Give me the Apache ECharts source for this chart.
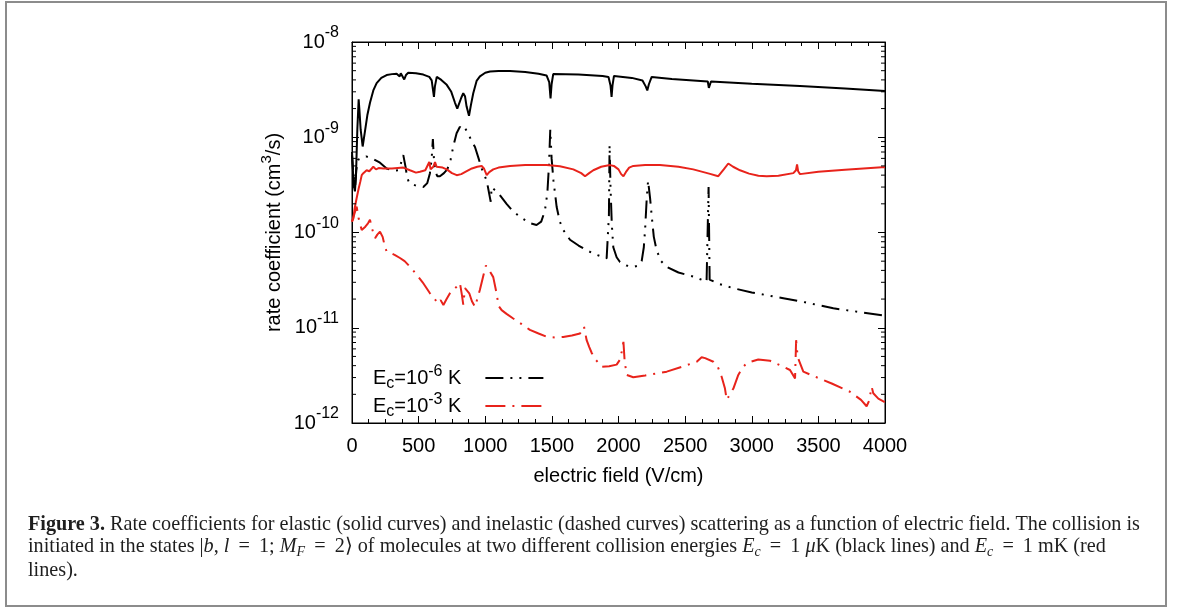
<!DOCTYPE html>
<html>
<head>
<meta charset="utf-8">
<script src="https://cdn.jsdelivr.net/npm/echarts@6/dist/echarts.min.js"></script>
<style>
html,body{margin:0;padding:0;background:#fff;}
#chart{width:1179px;height:613px;}
</style>
</head>
<body>
<div id="chart"></div>
<script>
// ---------- DATA ----------
// Black solid: elastic, Ec = 1 uK
const bsX = [0,8,16,22,30,40,50,55,65,80,95,115,135,160,185,220,260,300,335,350,358,366,380,392,405,422,480,535,580,598,607,615,622,636,670,711,745,773,790,805,820,835,848,860,878,893,910,935,960,1000,1036,1100,1186,1300,1400,1460,1480,1490,1498,1510,1525,1700,1880,1925,1940,1948,1955,1966,2100,2180,2205,2216,2228,2249,2400,2670,2678,2686,2694,3000,3362,3700,4000];
const bsY = [6.5e-10,4.2e-10,3.0e-10,2.7e-10,4e-10,1.2e-9,2.5e-9,2.0e-9,1.2e-9,8.0e-10,1.1e-9,1.7e-9,2.3e-9,3.1e-9,3.7e-9,4.2e-9,4.5e-9,4.6e-9,4.65e-9,4.55e-9,4.35e-9,4.7e-9,4.6e-9,4.05e-9,4.5e-9,4.75e-9,4.7e-9,4.55e-9,4.3e-9,3.95e-9,3.2e-9,2.65e-9,3.4e-9,4.3e-9,4.0e-9,3.55e-9,3.0e-9,2.3e-9,2.0e-9,2.0e-9,2.6e-9,2.9e-9,2.7e-9,2.1e-9,1.68e-9,2.2e-9,2.9e-9,3.9e-9,4.35e-9,4.75e-9,4.9e-9,4.95e-9,4.95e-9,4.85e-9,4.65e-9,4.45e-9,3.8e-9,2.55e-9,3.6e-9,4.6e-9,4.75e-9,4.55e-9,4.4e-9,4.3e-9,3.5e-9,2.65e-9,3.5e-9,4.4e-9,4.2e-9,3.95e-9,3.4e-9,3.1e-9,3.6e-9,4.3e-9,4.1e-9,3.85e-9,3.3e-9,3.4e-9,3.85e-9,3.65e-9,3.45e-9,3.25e-9,3.05e-9];

// Black dashed: inelastic, Ec = 1 uK
const bdX = [0,8,15,22,32,45,70,105,150,210,260,310,345,365,385,395,403,413,430,480,535,565,585,598,607,614,625,640,660,690,715,740,760,785,810,825,835,848,870,900,923,950,973,1011,1041,1048,1070,1111,1160,1211,1280,1336,1385,1420,1448,1466,1478,1488,1498,1512,1536,1560,1586,1636,1700,1761,1840,1911,1925,1928,1933,1940,1950,1961,1986,2011,2060,2111,2150,2174,2190,2200,2212,2222,2230,2237,2249,2265,2286,2320,2361,2450,2561,2661,2672,2676,2680,2684,2750,2862,3000,3237,3400,3612,3800,4000];
const bdY = [7.0e-10,4.5e-10,3.2e-10,2.8e-10,4.5e-10,5.8e-10,6.0e-10,6.3e-10,6.0e-10,5.4e-10,4.7e-10,4.45e-10,4.5e-10,5.2e-10,6.5e-10,6.8e-10,4.8e-10,3.8e-10,3.3e-10,3.1e-10,3.0e-10,3.3e-10,4.2e-10,6.0e-10,9.6e-10,6.2e-10,4.4e-10,3.9e-10,3.9e-10,4.2e-10,4.6e-10,5.8e-10,8.0e-10,1.1e-9,1.29e-9,1.2e-9,1.15e-9,1.25e-9,1.1e-9,9.0e-10,7.9e-10,6.0e-10,4.7e-10,3.5e-10,2.1e-10,3.0e-10,2.8e-10,2.45e-10,2.0e-10,1.65e-10,1.4e-10,1.25e-10,1.2e-10,1.3e-10,1.7e-10,2.6e-10,5.0e-10,1.2e-9,6.0e-10,3.5e-10,1.85e-10,1.3e-10,1.06e-10,8.4e-11,7.3e-11,6.5e-11,5.8e-11,5.35e-11,5.2e-11,1.5e-10,8.3e-10,3.0e-10,1.2e-10,7.0e-11,5.5e-11,4.9e-11,4.5e-11,4.35e-11,4.5e-11,5.0e-11,7.0e-11,1.1e-10,2.3e-10,3.5e-10,3.6e-10,2.3e-10,1.5e-10,9.0e-11,6.5e-11,5.0e-11,4.35e-11,3.8e-11,3.45e-11,3.05e-11,3.0e-11,3.0e-10,1.0e-10,3.2e-11,2.9e-11,2.6e-11,2.35e-11,2.04e-11,1.85e-11,1.6e-11,1.47e-11,1.34e-11];

// Red solid: elastic, Ec = 1 mK
const rsX = [0,10,20,35,50,62,73,85,100,110,130,160,180,200,235,300,385,435,480,510,550,565,580,590,598,610,623,635,648,680,711,750,786,820,861,900,940,973,990,1011,1030,1060,1100,1186,1300,1461,1560,1661,1720,1749,1780,1811,1870,1936,1965,2000,2020,2037,2055,2080,2111,2200,2311,2450,2561,2680,2749,2790,2824,2860,2912,2980,3050,3112,3200,3312,3332,3340,3348,3362,3500,3700,3975,4000];
const rsY = [1.3e-10,1.4e-10,1.8e-10,2.3e-10,2.9e-10,3.4e-10,4.0e-10,4.2e-10,4.1e-10,4.5e-10,4.4e-10,4.9e-10,4.6e-10,4.75e-10,4.7e-10,4.7e-10,4.8e-10,4.5e-10,4.25e-10,4.35e-10,4.5e-10,4.7e-10,5.5e-10,4.6e-10,4.8e-10,4.9e-10,5.5e-10,4.9e-10,5.1e-10,4.8e-10,4.6e-10,4.2e-10,4.0e-10,4.1e-10,4.4e-10,4.7e-10,4.9e-10,5.0e-10,4.7e-10,4.0e-10,4.3e-10,4.6e-10,4.8e-10,5.0e-10,5.1e-10,5.1e-10,4.95e-10,4.6e-10,4.2e-10,3.9e-10,4.2e-10,4.5e-10,4.9e-10,5.1e-10,5.0e-10,4.6e-10,4.1e-10,3.9e-10,4.3e-10,4.8e-10,5.0e-10,5.1e-10,5.1e-10,4.9e-10,4.6e-10,4.15e-10,3.9e-10,4.6e-10,5.3e-10,4.9e-10,4.5e-10,4.15e-10,3.95e-10,3.9e-10,3.95e-10,4.2e-10,4.5e-10,5.2e-10,4.4e-10,4.1e-10,4.35e-10,4.55e-10,4.83e-10,4.85e-10];

// Red dashed: inelastic, Ec = 1 mK
const rdX = [0,20,35,50,73,100,120,135,150,173,190,210,230,245,260,290,323,360,395,410,440,485,530,585,620,648,665,686,710,735,760,785,810,825,835,848,860,880,900,923,940,960,985,1005,1030,1060,1085,1100,1123,1160,1210,1270,1335,1400,1460,1530,1585,1650,1711,1741,1761,1780,1800,1830,1874,1930,1986,2010,2024,2037,2046,2061,2111,2200,2362,2480,2587,2624,2650,2712,2745,2774,2799,2812,2824,2862,2899,2930,2962,3049,3137,3237,3287,3325,3333,3345,3387,3487,3600,3737,3820,3862,3880,3900,3912,3950,4000];
const rdY = [1.3e-10,1.6e-10,1.87e-10,1.4e-10,1.06e-10,1.15e-10,1.25e-10,1.36e-10,1.1e-10,8.7e-11,9.5e-11,1.02e-10,9e-11,7.3e-11,6.3e-11,6.1e-11,5.8e-11,5.4e-11,5.0e-11,4.9e-11,4.3e-11,3.6e-11,3.0e-11,2.3e-11,2.0e-11,1.8e-11,1.95e-11,1.73e-11,2.0e-11,2.3e-11,2.5e-11,2.7e-11,2.95e-11,2.2e-11,1.75e-11,2.6e-11,2.65e-11,2.3e-11,1.9e-11,1.66e-11,2.0e-11,2.5e-11,3.5e-11,4.5e-11,4.0e-11,3.4e-11,2.3e-11,1.7e-11,1.53e-11,1.4e-11,1.25e-11,1.1e-11,9.5e-12,8.7e-12,8.05e-12,7.9e-12,8.0e-12,8.3e-12,8.7e-12,1.03e-11,7.4e-12,6.3e-12,5.4e-12,4.6e-12,3.9e-12,3.95e-12,4.1e-12,4.6e-12,5.6e-12,7.1e-12,4.5e-12,3.2e-12,3.02e-12,3.15e-12,3.46e-12,3.9e-12,4.4e-12,4.9e-12,4.8e-12,4.4e-12,3.9e-12,3.06e-12,2.3e-12,1.75e-12,1.8e-12,2.3e-12,3.2e-12,3.8e-12,4.25e-12,4.65e-12,4.5e-12,3.9e-12,3.6e-12,2.94e-12,7.4e-12,4.9e-12,3.46e-12,3.02e-12,2.6e-12,2.13e-12,1.75e-12,1.5e-12,1.7e-12,2.4e-12,2.05e-12,1.8e-12,1.65e-12];

// Axis ticks / labels
const xTicks = [0,500,1000,1500,2000,2500,3000,3500,4000];
const yDecades = [-12,-11,-10,-9,-8];
const legendNames = ['Ec=10^-6 K', 'Ec=10^-3 K'];
const legendExps = {'Ec=10^-6 K': '-6', 'Ec=10^-3 K': '-3'};

// ---------- BUILD ----------
const zip = (xs, ys) => xs.map((x, i) => [x, ys[i]]);
const minorVals = [];
for (let e = -12; e < -8; e++) for (let k = 2; k <= 9; k++) minorVals.push([0, k * Math.pow(10, e)]);

const SANS = '"Liberation Sans", Arial, Helvetica, sans-serif';
const SERIF = '"Liberation Serif", "Times New Roman", serif';
const RED = '#e8231b';
const INK = '#1e1e1e';
const SP = '\u2009';

const chart = echarts.init(document.getElementById('chart'), null, {renderer: 'canvas'});

const option = {
  animation: false,
  backgroundColor: '#fff',
  grid: {left: 352, right: 294, top: 42, bottom: 190, show: true, borderColor: '#000', borderWidth: 1, containLabel: false},
  xAxis: [{
    type: 'value', min: 0, max: 4000, interval: 500, position: 'bottom',
    axisLine: {show: true, onZero: false, lineStyle: {color: '#000', width: 1}},
    axisTick: {show: true, inside: true, length: 7, lineStyle: {color: '#000'}},
    minorTick: {show: true, splitNumber: 4, length: 4, lineStyle: {color: '#000'}},
    splitLine: {show: false},
    axisLabel: {fontSize: 20, fontFamily: SANS, color: '#000', margin: 13, formatter: v => String(v)},
    name: 'electric field (V/cm)', nameLocation: 'middle', nameGap: 43,
    nameTextStyle: {fontSize: 20, fontFamily: SANS, color: '#000'}
  }, {
    type: 'value', min: 0, max: 4000, interval: 500, position: 'top',
    axisLine: {show: true, onZero: false, lineStyle: {color: '#000', width: 1}},
    axisTick: {show: true, inside: true, length: 7, lineStyle: {color: '#000'}},
    minorTick: {show: true, splitNumber: 4, length: 4, lineStyle: {color: '#000'}},
    splitLine: {show: false}, axisLabel: {show: false}
  }],
  yAxis: [{
    type: 'log', logBase: 10, min: 1e-12, max: 1e-8, position: 'left',
    axisLine: {show: true, onZero: false, lineStyle: {color: '#000', width: 1}},
    axisTick: {show: true, inside: true, length: 7, lineStyle: {color: '#000'}},
    splitLine: {show: false},
    axisLabel: {
      margin: 13,
      formatter: v => '{b|10}{s|' + Math.round(Math.log10(v)) + '}',
      rich: {
        b: {fontSize: 20, fontFamily: SANS, color: '#000', lineHeight: 34, verticalAlign: 'middle'},
        s: {fontSize: 16, fontFamily: SANS, color: '#000', lineHeight: 16, verticalAlign: 'top'}
      }
    },
    name: '{n|rate coefficient (cm}{s|3}{n|/s)}', nameLocation: 'middle', nameGap: 63,
    nameTextStyle: {
      rich: {
        n: {fontSize: 20, fontFamily: SANS, color: '#000', lineHeight: 30, verticalAlign: 'middle'},
        s: {fontSize: 15, fontFamily: SANS, color: '#000', lineHeight: 15, verticalAlign: 'top'}
      }
    }
  }, {
    type: 'log', logBase: 10, min: 1e-12, max: 1e-8, position: 'right',
    axisLine: {show: true, onZero: false, lineStyle: {color: '#000', width: 1}},
    axisTick: {show: true, inside: true, length: 7, lineStyle: {color: '#000'}},
    splitLine: {show: false}, axisLabel: {show: false}
  }],
  legend: {
    data: legendNames,
    orient: 'vertical', left: 373, top: 364, align: 'right', padding: 0,
    itemWidth: 58, itemHeight: 14, itemGap: 0,
    itemStyle: {opacity: 0},
    formatter: name => '{n|E}{sub|c}{n|=10}{sup|' + legendExps[name] + '}{n| K}{g|}',
    textStyle: {
      rich: {
        n: {fontSize: 20, fontFamily: SANS, color: '#000', lineHeight: 28, verticalAlign: 'middle'},
        sub: {fontSize: 16, fontFamily: SANS, color: '#000', lineHeight: 16, verticalAlign: 'bottom'},
        sup: {fontSize: 16, fontFamily: SANS, color: '#000', lineHeight: 16, verticalAlign: 'top'},
        g: {width: 19}
      }
    }
  },
  graphic: [
    {type: 'rect', silent: true, shape: {x: 6, y: 2, width: 1160, height: 604},
     style: {fill: 'none', stroke: '#8c8c8c', lineWidth: 2}},
    {type: 'text', left: 28, top: 515, silent: true,
     style: {
       text: '{b|Figure 3.}{r| Rate coefficients for elastic (solid curves) and inelastic (dashed curves) scattering as a function of electric field. The collision is}',
       rich: {
         b: {fontSize: 20.2, fontFamily: SERIF, fontWeight: 'bold', fill: INK},
         r: {fontSize: 20.2, fontFamily: SERIF, fill: INK}
       }
     }},
    {type: 'text', left: 28, top: 537, silent: true,
     style: {
       text: '{r|initiated in the states |}{i|b}{r|, }{i|l}{r| ' + SP + '=' + SP + ' 1; }{i|M}{sub|F}{r| ' + SP + '=' + SP + ' 2\u27e9 of molecules at two different collision energies }{i|E}{sub|c}{r| ' + SP + '=' + SP + ' 1 }{i|\u03bc}{r|K (black lines) and }{i|E}{sub|c}{r| ' + SP + '=' + SP + ' 1 mK (red}',
       rich: {
         r: {fontSize: 20.2, fontFamily: SERIF, fill: INK, lineHeight: 24, verticalAlign: 'middle'},
         i: {fontSize: 20.2, fontFamily: SERIF, fontStyle: 'italic', fill: INK, lineHeight: 24, verticalAlign: 'middle'},
         sub: {fontSize: 14, fontFamily: SERIF, fontStyle: 'italic', fill: INK, lineHeight: 14, verticalAlign: 'bottom'}
       }
     }},
    {type: 'text', left: 28, top: 561, silent: true,
     style: {text: 'lines).', fontSize: 20.2, fontFamily: SERIF, fill: INK}}
  ],
  series: [
    {name: 'elastic 1uK', type: 'line', data: zip(bsX, bsY), symbol: 'none', smooth: false,
     lineStyle: {color: '#000', width: 2}, itemStyle: {color: '#000'}, z: 3},
    {name: legendNames[0], type: 'line', data: zip(bdX, bdY), symbol: 'none', smooth: false,
     lineStyle: {color: '#000', width: 2, type: [18, 7, 2, 7, 2, 7]}, itemStyle: {color: '#000'}, z: 3},
    {name: 'elastic 1mK', type: 'line', data: zip(rsX, rsY), symbol: 'none', smooth: false,
     lineStyle: {color: RED, width: 2}, itemStyle: {color: RED}, z: 4},
    {name: legendNames[1], type: 'line', data: zip(rdX, rdY), symbol: 'none', smooth: false,
     lineStyle: {color: RED, width: 2, type: [20, 7, 2, 7]}, itemStyle: {color: RED}, z: 4},
    {name: 'minorTicks', type: 'custom', data: minorVals, encode: {x: 0, y: 1}, silent: true, z: 5,
     renderItem: (params, api) => {
       const v = api.value(1);
       const pL = api.coord([0, v]);
       const pR = api.coord([4000, v]);
       return {type: 'group', children: [
         {type: 'line', shape: {x1: pL[0], y1: pL[1], x2: pL[0] + 4, y2: pL[1]}, style: {stroke: '#000', lineWidth: 1}},
         {type: 'line', shape: {x1: pR[0] - 4, y1: pR[1], x2: pR[0], y2: pR[1]}, style: {stroke: '#000', lineWidth: 1}}
       ]};
     }}
  ]
};
chart.setOption(option);
</script>
</body>
</html>
